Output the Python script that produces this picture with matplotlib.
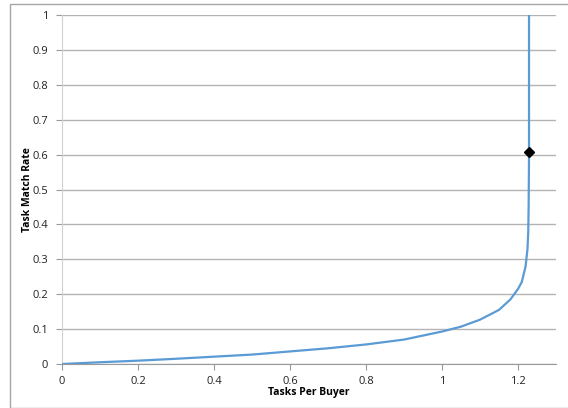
import matplotlib
matplotlib.use("Agg")
import matplotlib.pyplot as plt
from matplotlib.patches import Rectangle

tasks_per_buyer = [0, 0.1, 0.2, 0.3, 0.4, 0.5, 0.6, 0.7, 0.8, 0.9, 1.0, 1.05, 1.1, 1.15,
                   1.18, 1.2, 1.21, 1.22, 1.225, 1.227, 1.228, 1.229, 1.229]
match_rate = [0, 0.005, 0.0095, 0.015, 0.021, 0.027, 0.036, 0.045, 0.056, 0.07, 0.093, 0.107,
              0.127, 0.155, 0.185, 0.215, 0.235, 0.28, 0.33, 0.38, 0.45, 0.6, 1.0]
marker_x = [1.229]
marker_y = [0.607]
x_ticks = [0, 0.2, 0.4, 0.6, 0.8, 1, 1.2]
x_tick_labels = ["0", "0.2", "0.4", "0.6", "0.8", "1", "1.2"]
y_ticks = [0, 0.1, 0.2, 0.3, 0.4, 0.5, 0.6, 0.7, 0.8, 0.9, 1]
y_tick_labels = ["0", "0.1", "0.2", "0.3", "0.4", "0.5", "0.6", "0.7", "0.8", "0.9", "1"]

plt.rcParams['font.family'] = ['Open Sans', 'DejaVu Sans']
W, H = 568, 408
fig = plt.figure(figsize=(W / 100, H / 100), dpi=100)
fig.patches.append(Rectangle((10 / W, 0), 1.2, (H - 4) / H, transform=fig.transFigure,
                             fill=False, edgecolor="#a6a6a6", linewidth=1))
ax = fig.add_axes([62 / W, (H - 364) / H, (556 - 62) / W, (364 - 15) / H])
ax.plot(tasks_per_buyer, match_rate, color="#5b9bd5", linewidth=1.6, zorder=3)
ax.plot(marker_x, marker_y, marker="D", color="black", markersize=5, linestyle="none", zorder=4)
ax.set_xlim(0, 1.3)
ax.set_ylim(0, 1)
ax.set_xticks(x_ticks)
ax.set_xticklabels(x_tick_labels)
ax.set_yticks(y_ticks)
ax.set_yticklabels(y_tick_labels)
ax.grid(axis="y", color="#b3b3b3", linewidth=1)
ax.set_axisbelow(True)
for s in ["top", "right"]:
    ax.spines[s].set_visible(False)
ax.spines["left"].set_color("#d0d0d0")
ax.spines["bottom"].set_color("#999999")
ax.tick_params(axis="both", colors="#999999", labelcolor="#222222", labelsize=8, length=4)
ax.tick_params(axis="x", pad=5)
ax.tick_params(axis="y", pad=6)
ax.set_xlabel("Tasks Per Buyer", fontsize=7.5, fontweight="bold")
ax.set_ylabel("Task Match Rate", fontsize=7.5, fontweight="bold")
ax.yaxis.set_label_coords(-0.069, 0.5)
ax.xaxis.set_label_coords(0.5, -0.083)
ax.xaxis.label.set_va("center")
ax.yaxis.label.set_va("center")
fig.savefig("out.png", dpi=100)
